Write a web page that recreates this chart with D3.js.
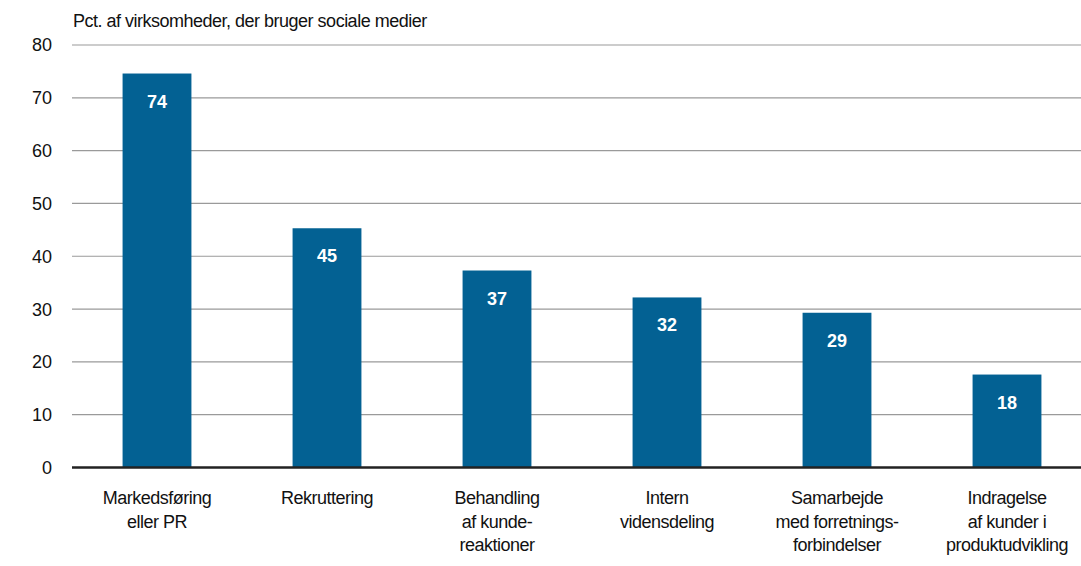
<!DOCTYPE html>
<html>
<head>
<meta charset="utf-8">
<script src="https://cdn.jsdelivr.net/npm/d3@7"></script>
<style>
  body { margin: 0; background: #fff; }
  text { font-family: "Liberation Sans", Arial, sans-serif; }
</style>
</head>
<body>
<div class="viz"></div>
<script>
// data
const categories = [
  ["Markedsføring", "eller PR"],
  ["Rekruttering"],
  ["Behandling", "af kunde-", "reaktioner"],
  ["Intern", "vidensdeling"],
  ["Samarbejde", "med forretnings-", "forbindelser"],
  ["Indragelse", "af kunder i", "produktudvikling"]
]
// bar heights, labels as printed
const values = [74.6, 45.3, 37.3, 32.2, 29.3, 17.6]
const valueLabels = ["74", "45", "37", "32", "29", "18"]
const yTicks = [0, 10, 20, 30, 40, 50, 60, 70, 80]
const title = "Pct. af virksomheder, der bruger sociale medier"

var w = 1081
var h = 566
// plot edges (don't name it "top", clashes with window.top)
var plotL = 72, plotR = 1092, plotT = 45, plotB = 467.5

const svg = d3.select(".viz")
  .append("svg")
  .attr("width", w)
  .attr("height", h)

var x = d3.scaleBand()
  .domain(d3.range(values.length))
  .range([plotL, plotR])
  .paddingInner(0.595)
  .paddingOuter(0.2975)

var y = d3.scaleLinear()
  .domain([0, 80])
  .range([plotB, plotT])

// gridlines
svg.selectAll("line.grid")
  .data(yTicks.filter(d => d > 0))
  .enter()
  .append("line")
  .attr("class", "grid")
  .attr("x1", plotL)
  .attr("x2", w)
  .attr("y1", d => y(d))
  .attr("y2", d => y(d))
  .attr("stroke", "#9a9a9a")
  .attr("stroke-width", 1.2)

// y tick labels
svg.selectAll("text.ytick")
  .data(yTicks)
  .enter()
  .append("text")
  .attr("class", "ytick")
  .attr("x", 52)
  .attr("y", d => y(d))
  .attr("dy", "0.36em")
  .attr("text-anchor", "end")
  .attr("font-size", 18)
  .attr("fill", "#111")
  .text(d => d)

// bars
svg.selectAll("rect")
  .data(values)
  .enter()
  .append("rect")
  .attr("x", (d, i) => x(i))
  .attr("y", d => y(d))
  .attr("width", x.bandwidth())
  .attr("height", d => plotB - y(d))
  .attr("fill", "#036193")

// value labels
svg.selectAll("text.val")
  .data(values)
  .enter()
  .append("text")
  .attr("class", "val")
  .attr("x", (d, i) => x(i) + x.bandwidth() / 2)
  .attr("y", d => y(d) + 34)
  .attr("text-anchor", "middle")
  .attr("font-size", 18)
  .attr("font-weight", "bold")
  .attr("fill", "#fff")
  .text((d, i) => valueLabels[i])

// baseline
svg.append("line")
  .attr("x1", plotL)
  .attr("x2", w)
  .attr("y1", plotB)
  .attr("y2", plotB)
  .attr("stroke", "#222")
  .attr("stroke-width", 2.5)

// category labels
var cat = svg.selectAll("text.cat")
  .data(categories)
  .enter()
  .append("text")
  .attr("class", "cat")
  .attr("text-anchor", "middle")
  .attr("font-size", 18)
  .attr("fill", "#111")
  .attr("letter-spacing", "-0.5")
cat.selectAll("tspan")
  .data((d, i) => d.map(t => ({t: t, i: i})))
  .enter()
  .append("tspan")
  .attr("x", d => x(d.i) + x.bandwidth() / 2)
  .attr("y", (d, j) => 504 + j * 23.5)
  .text(d => d.t)

// title
svg.append("text")
  .attr("x", 73)
  .attr("y", 27)
  .attr("font-size", 18)
  .attr("fill", "#111")
  .attr("letter-spacing", "-0.5")
  .text(title)
</script>
</body>
</html>
